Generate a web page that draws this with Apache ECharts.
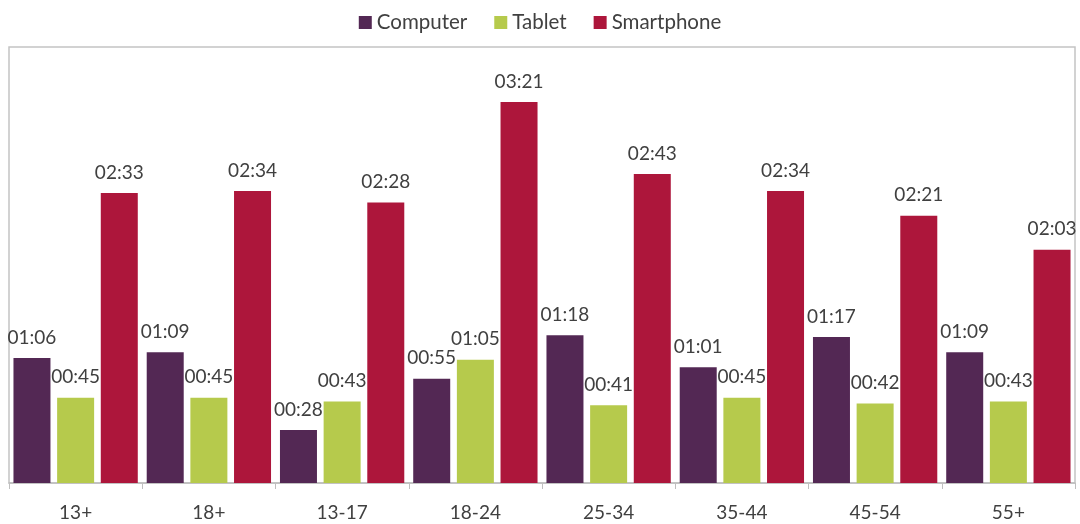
<!DOCTYPE html>
<html>
<head>
<meta charset="utf-8">
<script src="https://cdn.jsdelivr.net/npm/echarts@6/dist/echarts.min.js"></script>
<style>
  html, body { margin: 0; padding: 0; background: #fff; }
  #chart { width: 1080px; height: 524px; }
</style>
</head>
<body>
<div id="chart"></div>
<script>
// age groups
const categories = ['13+', '18+', '13-17', '18-24', '25-34', '35-44', '45-54', '55+'];
// daily time in minutes
const computerMinutes = [66, 69, 28, 55, 78, 61, 77, 69];
const tabletMinutes = [45, 45, 43, 65, 41, 45, 42, 43];
const smartphoneMinutes = [153, 154, 148, 201, 163, 154, 141, 123];

const textColor = '#404040';
const fontFamily = 'Lato, "Liberation Sans", sans-serif';

function toClock(mins) {
  const h = Math.floor(mins / 60);
  const m = mins % 60;
  return String(h).padStart(2, '0') + ':' + String(m).padStart(2, '0');
}

function makeSeries(name, data, color) {
  return {
    name,
    type: 'bar',
    data,
    barWidth: 37,
    barGap: '18%',
    itemStyle: { color },
    label: {
      show: true,
      position: 'top',
      distance: 11,
      color: textColor,
      fontSize: 19,
      fontFamily,
      formatter: (p) => toClock(p.value)
    }
  };
}

const chart = echarts.init(document.getElementById('chart'));
chart.setOption({
  animation: false,
  textStyle: { fontFamily },
  legend: {
    top: 7,
    left: 'center',
    icon: 'rect',
    itemWidth: 13,
    itemHeight: 13,
    itemGap: 27,
    textStyle: { color: textColor, fontSize: 20.5, fontFamily }
  },
  grid: {
    left: 9,
    right: 5,
    top: 47,
    bottom: 41,
    show: true,
    borderColor: '#c4c4c4',
    borderWidth: 1.5
  },
  xAxis: {
    type: 'category',
    data: categories,
    axisLine: { lineStyle: { color: '#bfbfbf', width: 1.5 } },
    axisTick: { show: true, length: 6, lineStyle: { color: '#bfbfbf' } },
    axisLabel: { color: textColor, fontSize: 19, fontFamily, margin: 20 }
  },
  yAxis: {
    type: 'value',
    min: 0,
    max: 230,
    show: false,
    splitLine: { show: false }
  },
  series: [
    makeSeries('Computer', computerMinutes, '#532854'),
    makeSeries('Tablet', tabletMinutes, '#b6ca4c'),
    makeSeries('Smartphone', smartphoneMinutes, '#ad163b')
  ]
});
</script>
</body>
</html>
